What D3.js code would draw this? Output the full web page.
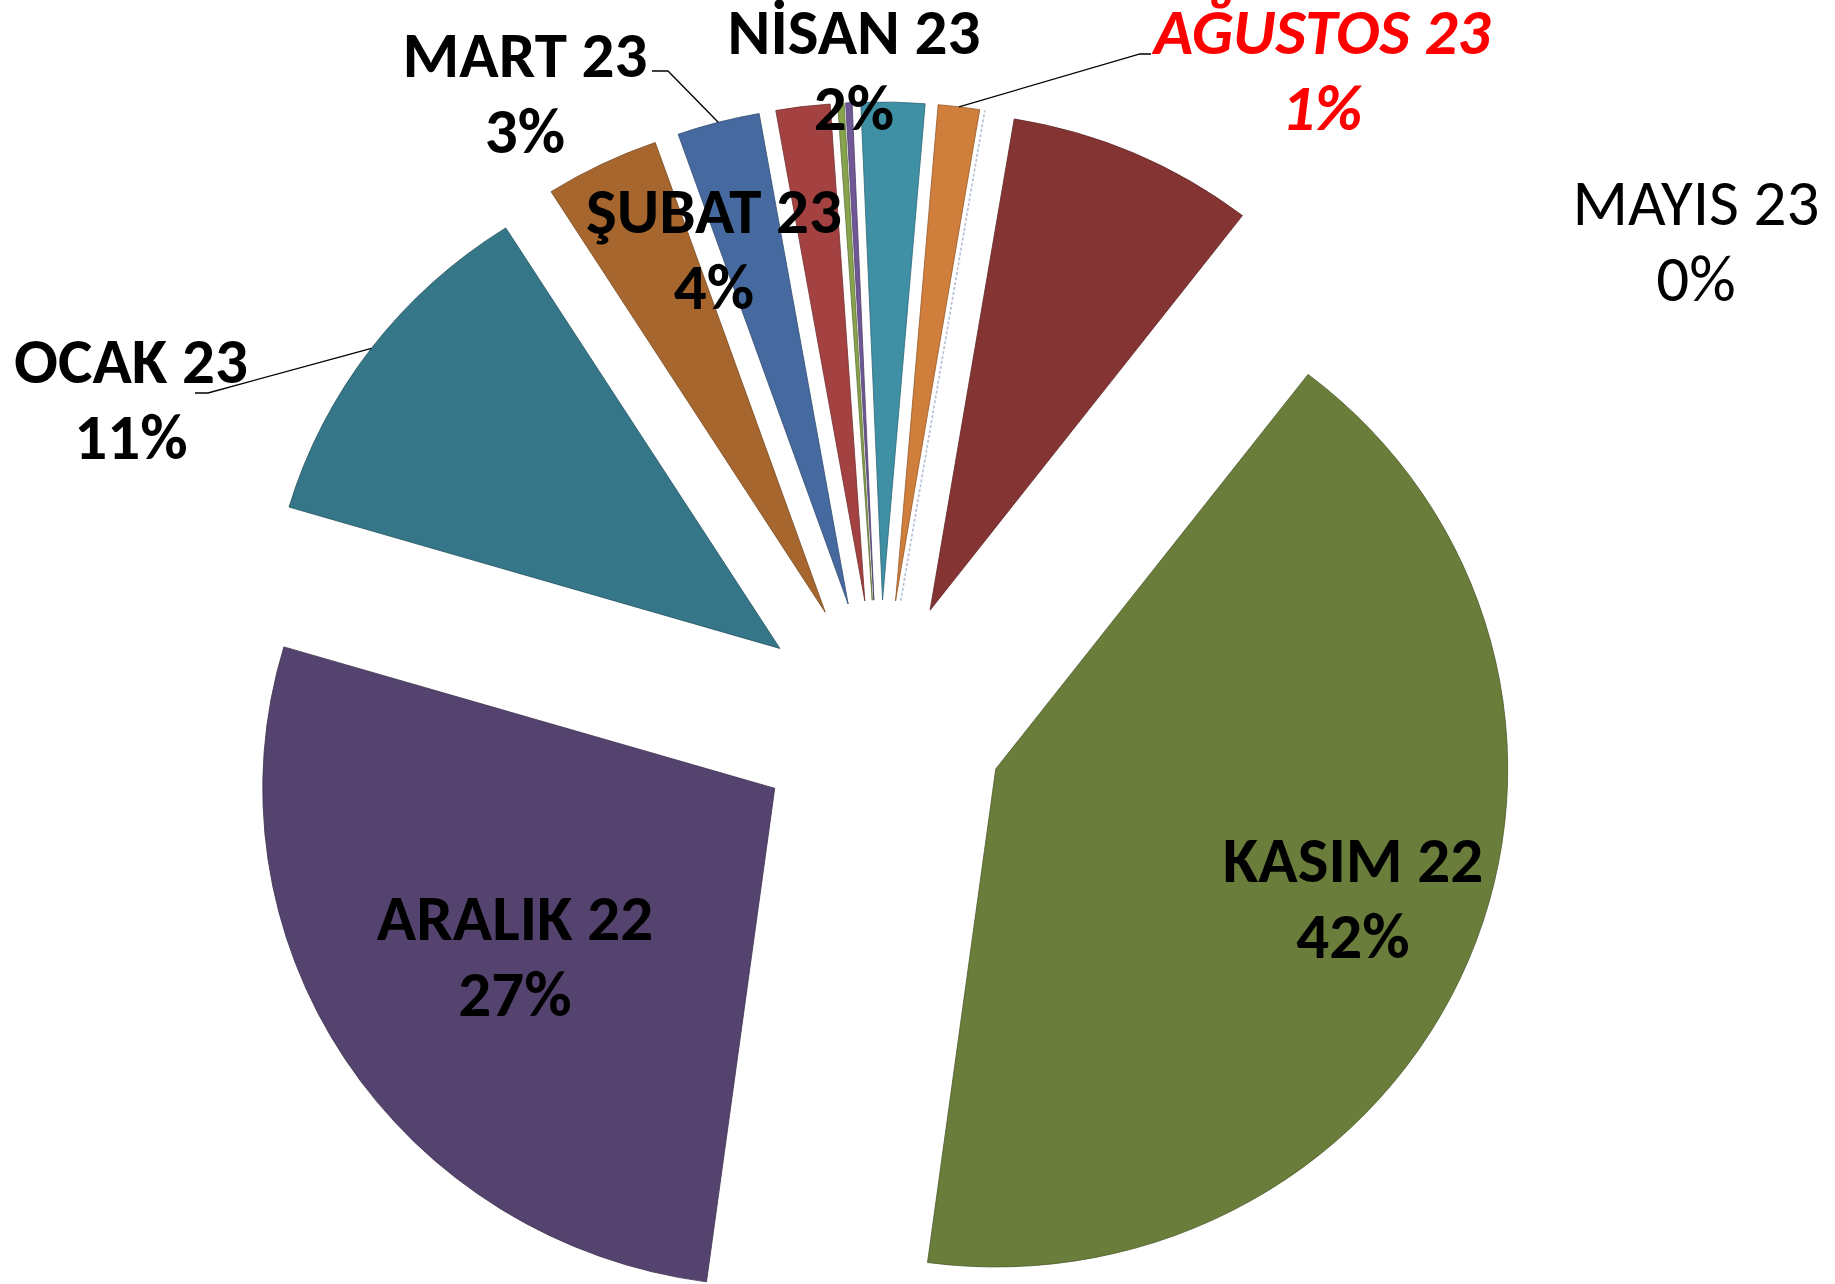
<!DOCTYPE html>
<html>
<head>
<meta charset="utf-8">
<script src="https://cdn.jsdelivr.net/npm/d3@7"></script>
<style>
  body { margin: 0; background: #fff; }
  text { font-family: Carlito, "Open Sans", sans-serif; }
</style>
</head>
<body>
<div id="chart"></div>
<script>
// Data for the pie (monthly share, in the clockwise order of the slices)
const categories = ['KASIM 22', 'ARALIK 22', 'OCAK 23', 'ŞUBAT 23', 'MART 23', 'NİSAN 23',
  'MAYIS 23', 'HAZİRAN 23', 'TEMMUZ 23', 'AĞUSTOS 23', 'EYLÜL 23', 'EKİM 23'];
const values = [41.6, 27.4, 11.4, 3.6, 2.6, 1.7, 0.2, 0.2, 2.0, 1.3, 0, 7.8];
const colors = ['#6a7d3b', '#55436f', '#357689', '#a6662e', '#466a9f', '#a44242',
  '#87a34d', '#6f5895', '#3f8fa5', '#d07e3b', 'none', '#843533'];

// Which slices keep a visible label
const shownLabels = ['KASIM 22', 'ARALIK 22', 'OCAK 23', 'ŞUBAT 23', 'MART 23', 'NİSAN 23', 'MAYIS 23', 'AĞUSTOS 23'];

// Label placement (moved by hand in the original), x = centre, y = first baseline
const labelPos = {
  'KASIM 22': [1353, 882],
  'ARALIK 22': [515, 940],
  'OCAK 23': [131, 383],
  'ŞUBAT 23': [714, 233],
  'MART 23': [525, 77],
  'NİSAN 23': [854, 54],
  'MAYIS 23': [1696, 225],
  'AĞUSTOS 23': [1322, 54]
};
// Leader lines: short horizontal stub near the label, then to the slice rim
const leaders = {
  'MART 23': [652, 668, 71],
  'OCAK 23': [195, 208, 393],
  'AĞUSTOS 23': [1151, 1140, 54]
};

const width = 1835;
const height = 1284;
const cx = 880, cy = 722;
const radius = 498;
const stretch = 1.028;
const explode = 122;
const start = 37.6 * Math.PI / 180;
const lineGap = 76;

const data = categories.map((c, i) => ({ name: c, v: values[i], color: colors[i] }));
const total = d3.sum(values);
const pct = d3.format('.0%');

const svg = d3.select('#chart')
  .append('svg')
  .attr('width', width)
  .attr('height', height);

const pie = d3.pie()
  .sort(null)
  .value(d => d.v)
  .startAngle(start)
  .endAngle(start + 2 * Math.PI);

const arc = d3.arc()
  .innerRadius(0)
  .outerRadius(radius);

const arcs = pie(data);
const mid = d => (d.startAngle + d.endAngle) / 2;

// slices, each pulled out along its own bisector
const g = svg.append('g')
  .attr('transform', `translate(${cx},${cy}) scale(${stretch},1)`);

g.selectAll('path.slice')
  .data(arcs)
  .join('path')
  .attr('class', 'slice')
  .attr('transform', d => `translate(${explode * Math.sin(mid(d))},${-explode * Math.cos(mid(d))})`)
  .attr('d', arc)
  .attr('fill', d => d.data.color)
  .attr('stroke', d => d.data.color === 'none' ? '#b3c0d6' : d3.color(d.data.color).darker(0.9))
  .attr('stroke-width', d => d.data.color === 'none' ? 1.6 : 0.8)
  .attr('stroke-dasharray', d => d.data.color === 'none' ? '2,3' : null);

// leader lines
const rimPoint = d => {
  const a = mid(d), rr = radius + explode;
  return [cx + stretch * rr * Math.sin(a), cy - rr * Math.cos(a)];
};
arcs.filter(d => leaders[d.data.name]).forEach(d => {
  const [x1, x2, y] = leaders[d.data.name];
  const p = rimPoint(d);
  svg.append('path')
    .attr('d', d3.line()([[x1, y], [x2, y], p]))
    .attr('fill', 'none')
    .attr('stroke', '#000')
    .attr('stroke-width', 1.3);
});

// labels
const labels = svg.append('g')
  .selectAll('text')
  .data(arcs.filter(d => shownLabels.includes(d.data.name)))
  .join('text')
  .attr('text-anchor', 'middle')
  .attr('font-size', 65)
  .attr('font-weight', d => d.data.name === 'MAYIS 23' ? 400 : 700)
  .attr('font-style', d => d.data.name === 'AĞUSTOS 23' ? 'italic' : null)
  .attr('fill', d => d.data.name === 'AĞUSTOS 23' ? '#ff0000' : '#000');

labels.append('tspan')
  .attr('x', d => labelPos[d.data.name][0])
  .attr('y', d => labelPos[d.data.name][1])
  .text(d => d.data.name);

labels.append('tspan')
  .attr('x', d => labelPos[d.data.name][0])
  .attr('y', d => labelPos[d.data.name][1] + lineGap)
  .text(d => pct(d.data.v / total));
</script>
</body>
</html>
